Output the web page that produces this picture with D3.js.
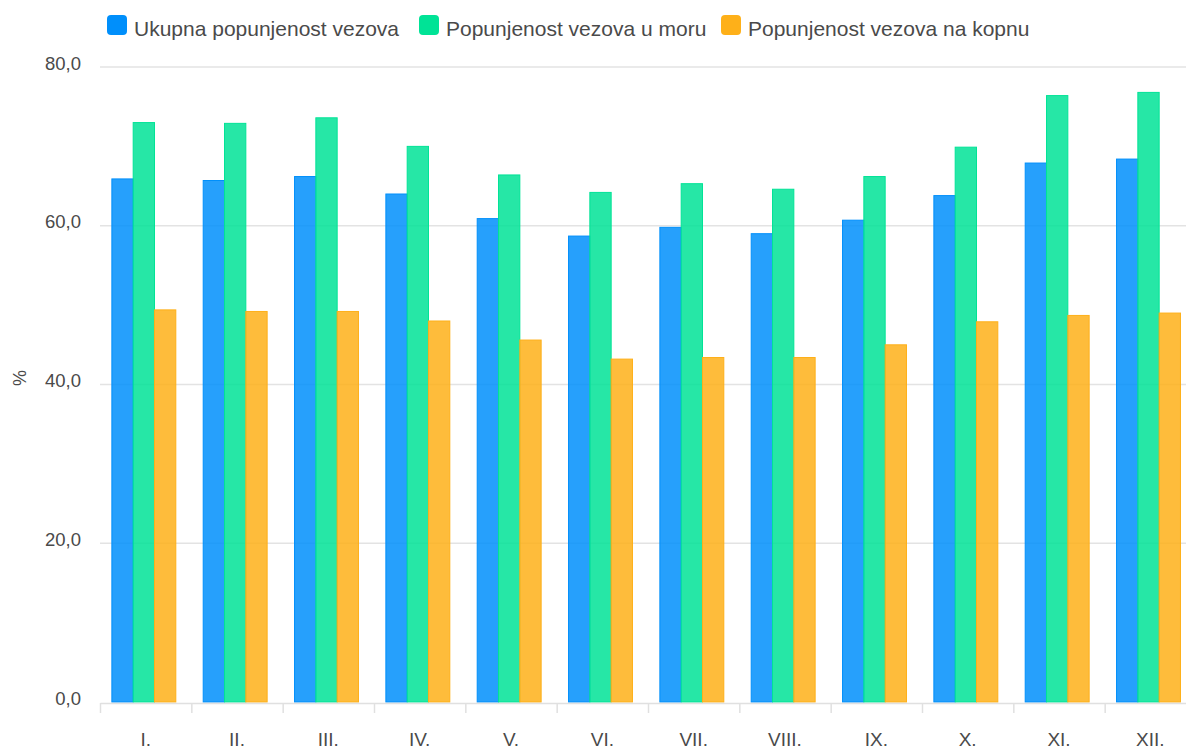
<!DOCTYPE html>
<html>
<head>
<meta charset="utf-8">
<script src="https://cdn.jsdelivr.net/npm/d3@7"></script>
<style>
  html, body { margin: 0; padding: 0; background: #fff; overflow: hidden; }
  text { font-family: "Liberation Sans", Arial, sans-serif; fill: #4a4a4a; }
</style>
</head>
<body>
<div id="chart"></div>
<script>
// months (roman numerals) and the three series
const months = ["I.", "II.", "III.", "IV.", "V.", "VI.", "VII.", "VIII.", "IX.", "X.", "XI.", "XII."];
const seriesNames = ["Ukupna popunjenost vezova", "Popunjenost vezova u moru", "Popunjenost vezova na kopnu"];
const ukupno = [65.9, 65.7, 66.2, 64.0, 60.9, 58.7, 59.8, 59.0, 60.7, 63.8, 67.9, 68.4];
const more   = [73.0, 72.9, 73.6, 70.0, 66.4, 64.2, 65.3, 64.6, 66.2, 69.9, 76.4, 76.8];
const kopno  = [49.4, 49.2, 49.2, 48.0, 45.6, 43.2, 43.4, 43.4, 45.0, 47.9, 48.7, 49.0];
const yTicks = [0, 20, 40, 60, 80];
const colors = ["#008FFB", "#00E396", "#FEB019"];

const W = 1186, H = 747;
const plotLeft = 100, plotRight = 1196, plotTop = 67, plotBottom = 702;

const svg = d3.select("#chart").append("svg")
  .attr("width", W)
  .attr("height", H);

const x = d3.scaleBand()
  .domain(months)
  .range([plotLeft, plotRight])
  .paddingInner(0)
  .paddingOuter(0);

const xSub = d3.scaleBand()
  .domain(d3.range(seriesNames.length))
  .range([x.bandwidth() * 0.13, x.bandwidth() * 0.83])
  .padding(0);

const y = d3.scaleLinear()
  .domain([0, 80])
  .range([plotBottom, plotTop]);

const fmt = v => d3.format(".1f")(v).replace(".", ",");

// gridlines
svg.append("g")
  .selectAll("line")
  .data(yTicks.filter(d => d > 0))
  .enter()
  .append("line")
  .attr("x1", plotLeft)
  .attr("x2", W)
  .attr("y1", d => y(d))
  .attr("y2", d => y(d))
  .attr("stroke", "#e3e3e3")
  .attr("stroke-width", 1.5);

// y tick labels
svg.append("g")
  .selectAll("text")
  .data(yTicks)
  .enter()
  .append("text")
  .attr("x", 81)
  .attr("y", d => y(d) + 2.5)
  .attr("text-anchor", "end")
  .attr("font-size", 18.5)
  .text(fmt);

// y axis title
svg.append("text")
  .attr("transform", "translate(26,378) rotate(-90)")
  .attr("text-anchor", "middle")
  .attr("font-size", 18)
  .text("%");

// bars
const values = [ukupno, more, kopno];
const groups = svg.append("g")
  .selectAll("g")
  .data(months)
  .enter()
  .append("g")
  .attr("transform", d => `translate(${x(d)},0)`);

groups.selectAll("rect")
  .data((m, i) => values.map((s, k) => ({ k: k, v: s[i] })))
  .enter()
  .append("rect")
  .attr("x", d => xSub(d.k))
  .attr("y", d => y(d.v))
  .attr("width", xSub.bandwidth())
  .attr("height", d => y(0) - y(d.v))
  .attr("fill", d => colors[d.k])
  .attr("fill-opacity", 0.85)
  .attr("stroke", d => colors[d.k])
  .attr("stroke-width", 1);

// x axis
const xAxis = d3.axisBottom(x).tickSize(0).tickPadding(0);
const gx = svg.append("g")
  .attr("transform", `translate(0,${plotBottom + 1})`)
  .call(xAxis);
gx.select(".domain").attr("stroke", "#e0e0e0").attr("stroke-width", 1.5);
gx.selectAll(".tick text")
  .attr("font-size", 19)
  .attr("y", 43)
  .attr("dy", 0)
  .attr("fill", "#4a4a4a")
  .attr("font-family", "Liberation Sans, Arial, sans-serif");
gx.selectAll(".tick line").remove();

// boundary ticks between months
svg.append("g")
  .selectAll("line")
  .data(months)
  .enter()
  .append("line")
  .attr("x1", d => x(d) + 0.5)
  .attr("x2", d => x(d) + 0.5)
  .attr("y1", plotBottom + 1)
  .attr("y2", plotBottom + 11)
  .attr("stroke", "#e0e0e0")
  .attr("stroke-width", 1.5);

// legend
const legendX = [107, 419, 721];
const legend = svg.append("g")
  .selectAll("g")
  .data(seriesNames)
  .enter()
  .append("g")
  .attr("transform", (d, i) => `translate(${legendX[i]},15)`);

legend.append("rect")
  .attr("width", 20)
  .attr("height", 20)
  .attr("rx", 4)
  .attr("fill", (d, i) => colors[i]);

legend.append("text")
  .attr("x", 27)
  .attr("y", 21)
  .attr("font-size", 21)
  .text(d => d);
</script>
</body>
</html>
